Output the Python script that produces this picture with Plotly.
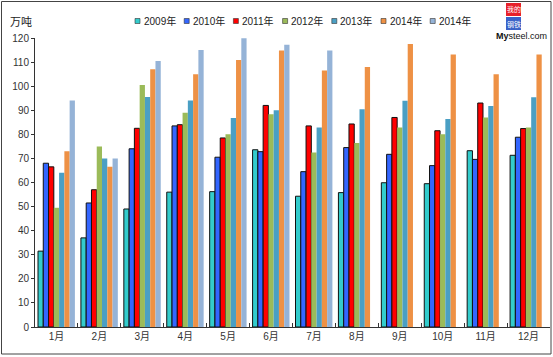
import plotly.graph_objects as go

months = ["1月", "2月", "3月", "4月", "5月", "6月", "7月", "8月", "9月", "10月", "11月", "12月"]
series_names = ["2009年", "2010年", "2011年", "2012年", "2013年", "2014年", "2014年"]

v2009 = [31.5, 37, 49, 56, 56.2, 73.6, 54.3, 55.8, 59.9, 59.5, 73.2, 71.3]
v2010 = [68, 51.5, 74, 83.5, 70.5, 72.8, 64.5, 74.5, 71.7, 67, 69.6, 78.8]
v2011 = [66.5, 57, 82.5, 84, 78.5, 92, 83.5, 84.3, 87, 81.5, 93, 82.4]
v2012 = [49.5, 75, 100.5, 89, 80, 88.3, 72.5, 76.4, 82.8, 80, 87, 82.8]
v2013 = [64, 70, 95.5, 94, 86.8, 90, 82.8, 90.4, 93.9, 86.4, 91.8, 95.4]
v2014a = [73, 66.5, 107, 105, 110.9, 114.8, 106.5, 108, 117.5, 113.2, 104.9, 113.2]
v2014b = [94, 70, 110.5, 115, 119.9, 117.2, 114.8, None, None, None, None, None]

values = [v2009, v2010, v2011, v2012, v2013, v2014a, v2014b]
colors = ["#33CCCC", "#3366FF", "#FF0000", "#9BBB59", "#4A9FC4", "#EE9145", "#95B3D7"]
outlined = [True, True, True, False, False, False, False]

W, H = 553, 357
L, R, T, B = 35, 3, 38, 30
PW, PH = W - L - R, H - T - B


def px(x):
    return (x - L) / PW


def py(y):
    return (H - B - y) / PH


font_family = "Liberation Sans, Arial, Noto Sans CJK SC, sans-serif"

fig = go.Figure()
for name, vals, col, ol in zip(series_names, values, colors, outlined):
    fig.add_trace(go.Bar(
        x=months, y=vals, name=name,
        marker=dict(color=col,
                    line=dict(color="#111111" if ol else col, width=1 if ol else 0)),
    ))

shapes = []
annotations = []

# manual legend
for i, (name, col) in enumerate(zip(series_names, colors)):
    x0 = 135 + i * 49.2
    shapes.append(dict(type="rect", xref="paper", yref="paper",
                       x0=px(x0), x1=px(x0 + 5), y0=py(23.5), y1=py(18.5),
                       fillcolor=col, line=dict(color="#333333", width=0.6)))
    annotations.append(dict(xref="paper", yref="paper", x=px(x0 + 6.5), y=py(21),
                            text=name, showarrow=False, xanchor="left", yanchor="middle",
                            font=dict(size=10, color="#222222", family=font_family)))

# unit label
annotations.append(dict(xref="paper", yref="paper", x=px(8), y=py(21), text="万吨",
                        showarrow=False, xanchor="left", yanchor="middle",
                        font=dict(size=11, color="#222222", family="Noto Sans CJK SC")))

# logo
shapes.append(dict(type="rect", xref="paper", yref="paper",
                   x0=px(506), x1=px(521), y0=py(16), y1=py(3),
                   fillcolor="#E8202A", line=dict(width=0)))
shapes.append(dict(type="rect", xref="paper", yref="paper",
                   x0=px(506), x1=px(521), y0=py(30), y1=py(17),
                   fillcolor="#3A62C8", line=dict(width=0)))
annotations.append(dict(xref="paper", yref="paper", x=px(513.5), y=py(9.5), text="我的",
                        showarrow=False, xanchor="center", yanchor="middle",
                        font=dict(size=7, color="white", family="Noto Sans CJK SC")))
annotations.append(dict(xref="paper", yref="paper", x=px(513.5), y=py(23.5), text="钢铁",
                        showarrow=False, xanchor="center", yanchor="middle",
                        font=dict(size=7, color="white", family="Noto Sans CJK SC")))
annotations.append(dict(xref="paper", yref="paper", x=px(521), y=py(36), text="<b>My</b>steel.com",
                        showarrow=False, xanchor="center", yanchor="middle",
                        font=dict(size=9, color="#111111", family=font_family)))

# outer frame
shapes.append(dict(type="rect", xref="paper", yref="paper",
                   x0=px(1.5), x1=px(551), y0=py(354), y1=py(1.5),
                   line=dict(color="#444444", width=1), fillcolor="rgba(0,0,0,0)"))

fig.update_layout(
    width=W, height=H,
    margin=dict(l=L, r=R, t=T, b=B),
    paper_bgcolor="white", plot_bgcolor="white",
    barmode="group", bargap=0.14, bargroupgap=0,
    showlegend=False,
    shapes=shapes, annotations=annotations,
    font=dict(family=font_family, size=10, color="#333333"),
    xaxis=dict(type="category", showline=True, linecolor="#333333", linewidth=1,
               ticks="inside", ticklen=4, tickcolor="#333333", tickson="boundaries",
               showgrid=False, tickfont=dict(size=10, color="#333333", family=font_family)),
    yaxis=dict(range=[0, 120], dtick=10, showline=True, linecolor="#333333", linewidth=1,
               ticks="outside", ticklen=3, tickcolor="#333333", showgrid=False,
               zeroline=False, tickfont=dict(size=10, color="#333333")),
)

fig.write_html("out.html", config={"displayModeBar": False},
               post_script="document.body.style.margin='0';document.body.style.overflow='hidden';")
